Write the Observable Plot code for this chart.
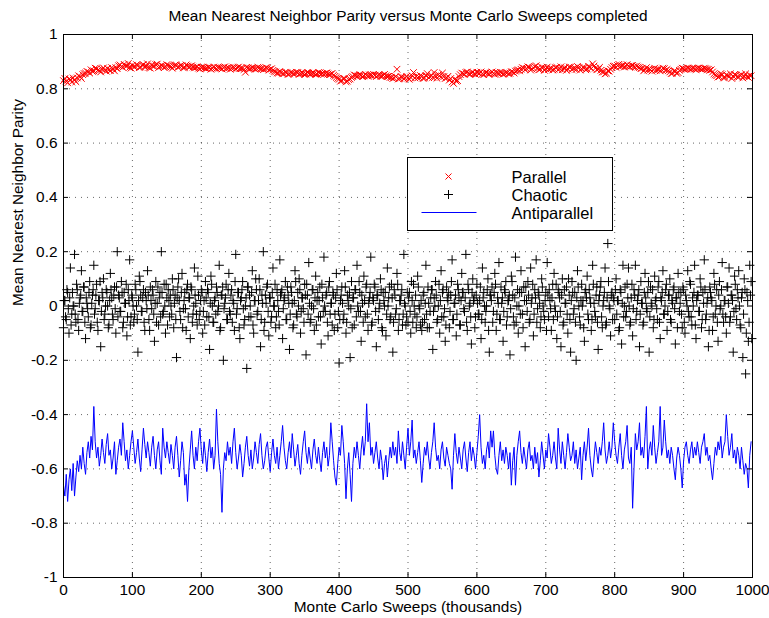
<!DOCTYPE html>
<html><head><meta charset="utf-8">
<script src="https://cdn.jsdelivr.net/npm/d3@7"></script>
<script src="https://cdn.jsdelivr.net/npm/@observablehq/plot@0.6"></script>
<style>
body{margin:0;background:#fff;}
#wrap{position:relative;width:769px;height:618px;font-family:"Liberation Sans",Arial,Helvetica,sans-serif;}
#legend{position:absolute;left:407px;top:157px;width:204px;height:72px;border:1.5px solid #000;background:#fff;}
#legend svg{display:block;}
</style></head><body><div id="wrap"></div>
<script>
const titleText = "Mean Nearest Neighbor Parity versus Monte Carlo Sweeps completed";
const xLabel = "Monte Carlo Sweeps (thousands)";
const yLabel = "Mean Nearest Neighbor Parity";
const seriesNames = ["Parallel", "Chaotic", "Antiparallel"];
const xTicks = [0, 100, 200, 300, 400, 500, 600, 700, 800, 900, 1000];
const yTicks = [-1, -0.8, -0.6, -0.4, -0.2, 0, 0.2, 0.4, 0.6, 0.8, 1];
const yTickLabels = ["-1", "-0.8", "-0.6", "-0.4", "-0.2", "0", "0.2", "0.4", "0.6", "0.8", "1"];

// Parallel: two interleaved samplings (x = 4i and x = 4i + 2)
const parallelA = [
0.83,0.828,0.836,0.825,0.832,
0.84,0.845,0.852,0.858,0.862,
0.87,0.866,0.874,0.868,0.872,0.87,0.875,0.867,0.873,
0.878,0.885,0.882,0.89,0.884,0.879,0.887,0.882,0.886,0.88,0.889,0.883,0.878,0.887,0.884,0.891,0.882,
0.884,0.881,0.886,0.88,0.883,0.887,0.882,0.885,0.879,0.884,0.882,0.88,
0.878,0.876,0.879,0.877,0.875,0.878,0.876,0.877,0.879,0.876,0.878,0.875,0.877,0.876,0.878,0.877,0.874,0.876,0.861,0.877,0.875,0.876,0.874,0.877,0.875,0.873,0.876,0.872,0.868,
0.862,0.858,0.86,0.856,0.859,0.855,0.858,0.857,0.86,0.856,
0.857,0.855,0.858,0.856,0.857,0.854,0.858,0.856,0.857,0.855,0.853,0.85,0.842,
0.835,0.83,0.838,0.828,0.836,
0.845,0.849,0.848,0.85,0.847,0.849,0.851,0.848,0.85,0.849,0.847,0.85,0.848,0.846,
0.842,0.84,0.872,0.838,0.843,0.84,0.839,0.842,0.86,
0.845,0.843,0.846,0.84,0.856,0.844,0.842,0.847,0.852,0.843,0.845,0.84,
0.832,0.825,0.836,0.83,
0.852,0.856,0.86,0.855,0.858,0.856,0.861,0.857,0.855,0.859,0.856,0.858,0.857,0.86,0.856,0.858,0.855,0.859,0.857,0.862,0.865,
0.87,0.872,0.876,0.874,0.879,0.873,0.882,0.876,0.872,0.878,0.874,0.871,
0.876,0.872,0.879,0.874,0.87,0.877,0.873,0.88,0.875,0.871,0.878,0.874,0.877,0.873,0.879,0.892,0.876,0.872,0.868,0.862,0.858,0.865,
0.878,0.884,0.886,0.882,0.887,0.884,0.883,0.885,0.882,0.884,
0.878,0.876,0.872,0.869,0.871,0.87,0.868,0.872,0.87,0.874,0.871,
0.862,0.858,0.864,0.86,
0.872,0.874,0.873,0.875,0.874,0.873,0.875,0.874,0.873,0.874,0.872,0.87,
0.855,0.848,0.845,0.852,0.842,0.848,0.855,0.846,0.85,0.843,0.852,0.847,0.845,0.85
];
const parallelB = [
0.838,0.822,0.834,0.84,0.826,
0.848,0.838,0.856,0.864,0.858,
0.864,0.876,0.869,0.862,0.877,0.865,0.87,0.878,0.866,
0.874,0.888,0.879,0.884,0.893,0.876,0.881,0.889,0.878,0.886,0.881,0.892,0.876,0.883,0.889,0.878,0.886,
0.878,0.889,0.883,0.876,0.888,0.879,0.886,0.877,0.888,0.881,0.885,0.877,
0.881,0.873,0.88,0.875,0.879,0.872,0.88,0.874,0.878,0.873,0.881,0.877,0.872,0.879,0.874,0.88,0.876,0.871,0.879,0.873,0.878,0.872,0.879,0.874,0.871,0.878,0.869,0.874,0.864,
0.858,0.864,0.855,0.861,0.853,0.86,0.855,0.861,0.853,0.859,
0.853,0.86,0.854,0.859,0.853,0.86,0.855,0.853,0.859,0.852,0.857,0.846,0.838,
0.828,0.838,0.826,0.834,0.842,
0.851,0.846,0.852,0.845,0.853,0.846,0.85,0.853,0.845,0.852,0.847,0.853,0.845,0.842,
0.838,0.845,0.836,0.844,0.837,0.846,0.835,0.848,0.84,
0.84,0.849,0.838,0.848,0.841,0.85,0.86,0.839,0.848,0.858,0.838,0.846,
0.838,0.82,0.828,0.845,
0.858,0.853,0.862,0.854,0.861,0.853,0.857,0.862,0.852,0.86,0.854,0.862,0.853,0.858,0.861,0.854,0.86,0.855,0.863,0.858,0.868,
0.866,0.878,0.87,0.881,0.869,0.877,0.885,0.87,0.879,0.868,0.88,0.875,
0.869,0.878,0.87,0.881,0.876,0.868,0.88,0.871,0.877,0.882,0.869,0.879,0.87,0.883,0.875,0.884,0.87,0.879,0.862,0.855,0.866,0.872,
0.883,0.879,0.89,0.885,0.88,0.889,0.881,0.886,0.879,0.88,
0.874,0.866,0.878,0.873,0.865,0.876,0.872,0.866,0.876,0.869,0.867,
0.856,0.865,0.857,0.868,
0.876,0.871,0.877,0.872,0.876,0.871,0.877,0.872,0.876,0.871,0.868,0.862,
0.851,0.843,0.856,0.84,0.851,0.845,0.838,0.853,0.844,0.849,0.84,0.855,0.842,0.848
];

// Chaotic: even thousands (x = 2i) and odd thousands (x = 2i + 1)
const chaoticEven = [
-0.08,0.02,-0.05,0.05,-0.1,0.14,-0.03,0.0,0.19,-0.06,0.06,-0.09,0.03,0.13,-0.02,0.07,-0.12,0.01,-0.04,0.09,
-0.07,0.04,0.15,-0.01,0.08,-0.09,0.02,-0.15,0.05,0.1,-0.03,0.06,0.0,-0.07,0.12,0.03,-0.05,0.07,-0.1,0.2,
0.04,-0.02,0.09,-0.08,0.05,0.01,-0.11,0.06,0.17,-0.04,
0.03,-0.06,0.08,0.0,-0.17,0.11,0.04,-0.02,0.06,-0.09,0.02,0.13,-0.05,0.07,-0.01,0.04,-0.13,0.09,0.01,-0.07,
0.05,0.2,-0.03,0.08,-0.1,0.03,0.06,-0.04,0.0,0.1,-0.08,0.04,-0.19,0.07,0.02,-0.05,0.12,-0.01,0.05,-0.09,
0.08,0.03,-0.12,0.06,-0.03,0.14,0.01,-0.07,0.04,-0.02,
0.06,-0.1,0.02,0.09,-0.04,0.05,-0.16,0.11,0.0,-0.06,0.03,0.07,-0.02,0.15,-0.08,0.04,-0.2,0.01,0.08,-0.05,
0.12,-0.03,0.06,0.02,-0.09,0.19,-0.01,0.05,-0.12,0.03,0.09,-0.07,0.0,-0.23,0.07,0.04,-0.04,0.13,-0.1,0.02,
0.06,-0.02,0.1,-0.15,0.04,0.2,-0.06,0.01,0.08,-0.11,
0.03,-0.04,0.14,0.0,-0.08,0.06,-0.02,0.17,0.05,-0.12,0.02,0.09,-0.05,0.04,-0.16,0.07,0.01,-0.07,0.13,-0.03,
0.05,0.1,-0.1,0.03,-0.01,0.08,-0.18,0.04,0.16,-0.06,0.0,0.06,-0.09,0.11,0.02,-0.04,0.07,-0.14,0.03,0.18,
-0.02,0.05,-0.11,0.09,0.01,-0.07,0.04,-0.03,0.12,-0.08,
-0.21,0.02,0.07,-0.05,0.13,-0.1,0.04,0.0,-0.19,0.09,0.03,-0.07,0.06,0.15,-0.02,0.05,-0.13,0.01,0.11,-0.04,
0.08,-0.09,0.03,0.18,-0.06,0.02,0.07,-0.15,0.04,-0.01,0.1,-0.08,0.05,0.0,-0.11,0.14,0.03,-0.05,0.08,-0.17,
0.06,-0.03,0.12,-0.09,0.02,0.04,-0.07,0.19,0.0,-0.04,
-0.06,0.05,-0.1,0.02,0.08,-0.03,-0.08,0.11,0.0,-0.07,-0.09,0.04,-0.05,0.15,-0.08,0.01,-0.02,0.06,-0.16,0.03,
0.09,-0.06,0.0,-0.1,0.13,0.05,-0.04,-0.13,0.07,0.02,-0.08,0.04,0.17,-0.05,0.01,-0.11,0.08,0.03,-0.07,0.12,
0.05,-0.02,0.19,-0.09,0.06,0.01,-0.14,0.1,0.03,-0.04,
0.08,-0.03,0.02,-0.12,0.14,0.05,-0.06,0.0,0.1,-0.17,0.04,0.07,-0.02,0.12,-0.09,0.03,0.16,-0.05,0.01,-0.13,
0.06,0.09,-0.04,0.02,-0.18,0.11,0.04,-0.07,0.18,0.0,-0.1,0.05,0.13,-0.03,0.07,-0.15,0.02,0.09,-0.06,0.14,
0.03,-0.11,0.06,0.17,-0.01,0.04,-0.08,0.1,0.0,-0.05,
0.05,0.16,-0.04,0.02,-0.09,0.08,0.12,-0.02,-0.12,0.06,0.03,-0.15,0.1,-0.06,0.01,0.07,-0.1,0.04,-0.17,0.09,
-0.03,0.05,-0.2,0.13,0.0,-0.07,0.08,0.02,-0.13,0.06,0.11,-0.05,0.03,-0.09,0.15,0.01,-0.04,0.07,-0.16,0.04,
0.09,-0.08,0.02,0.14,-0.06,0.23,0.0,-0.11,0.05,0.03,
-0.05,0.1,0.02,-0.09,0.06,-0.14,0.15,0.0,-0.04,0.08,0.14,-0.07,0.03,-0.11,0.06,0.15,-0.02,0.04,-0.15,0.09,
0.01,-0.06,0.12,-0.01,0.05,-0.17,0.07,0.0,-0.08,0.11,0.03,-0.05,0.09,-0.12,0.02,0.13,-0.03,0.06,-0.09,0.04,
0.1,-0.06,0.01,0.07,-0.14,0.03,0.12,-0.02,0.05,-0.08,
0.06,-0.1,0.02,0.13,-0.04,0.08,-0.07,0.0,0.15,-0.12,0.04,-0.02,0.1,-0.08,0.05,0.17,-0.05,0.01,-0.15,0.07,
0.03,-0.09,0.12,-0.03,0.06,-0.13,0.09,0.0,0.16,-0.06,0.02,-0.1,0.07,0.14,-0.04,0.04,-0.17,0.11,-0.01,0.06,
0.13,-0.07,0.03,-0.19,0.1,-0.25,0.05,-0.13,0.15,0.09
];
const chaoticOdd = [
0.02,-0.04,0.06,-0.01,0.03,-0.07,0.05,0.0,-0.03,0.08,-0.05,0.01,0.04,-0.02,0.07,-0.06,0.03,-0.01,0.05,-0.08,
0.01,0.06,-0.03,0.04,-0.06,0.02,0.09,-0.02,0.03,-0.05,0.0,0.05,-0.08,0.02,0.06,-0.03,0.04,-0.01,0.07,-0.04,
0.03,-0.02,0.05,-0.06,0.01,0.08,-0.04,0.02,-0.07,0.04,0.0,-0.03,0.06,-0.05,0.02,0.09,-0.02,0.03,-0.06,0.05,
-0.01,0.04,-0.09,0.02,0.06,-0.03,0.01,-0.06,0.07,0.03,-0.04,0.05,-0.02,0.0,0.08,-0.07,0.02,0.04,-0.03,0.06,
0.01,-0.05,0.03,0.1,-0.02,0.05,-0.08,0.02,-0.01,0.06,-0.04,0.03,0.07,-0.06,0.0,0.04,-0.03,0.11,-0.05,0.02,
0.05,-0.02,-0.07,0.03,0.06,-0.04,0.01,0.08,-0.06,0.02,-0.03,0.05,0.0,-0.09,0.04,0.07,-0.01,0.03,-0.05,0.06,
-0.02,0.04,-0.06,0.01,0.09,-0.03,0.05,-0.08,0.02,0.06,-0.01,-0.05,0.03,0.07,-0.04,0.0,0.05,-0.07,0.02,0.1,
-0.03,0.02,0.06,-0.05,0.01,-0.09,0.04,0.07,-0.02,0.03,-0.06,0.05,0.0,0.08,-0.04,0.02,-0.07,0.04,0.06,-0.01,
0.03,-0.05,0.07,0.01,-0.03,0.05,-0.08,0.02,0.09,-0.04,0.0,0.06,-0.02,0.03,-0.06,0.04,0.08,-0.03,0.01,-0.05,
0.06,-0.01,0.03,-0.07,0.05,0.02,-0.04,0.08,-0.02,0.0,0.04,-0.06,0.07,-0.03,0.01,0.05,-0.09,0.03,0.06,-0.02,
-0.05,0.04,0.01,-0.03,0.07,-0.06,0.02,0.05,-0.01,-0.08,0.03,0.06,-0.04,0.0,0.09,-0.02,0.04,-0.06,0.02,0.07,
-0.03,0.01,0.05,-0.07,0.03,0.08,-0.02,0.04,-0.05,0.01,0.06,-0.09,0.02,0.05,-0.03,0.0,0.07,-0.04,0.03,-0.06,
0.04,-0.01,0.08,-0.05,0.02,0.06,-0.03,0.01,-0.07,0.05,0.03,-0.02,0.09,-0.06,0.0,0.04,-0.04,0.07,-0.01,0.02,
-0.06,0.05,0.01,-0.03,0.07,-0.08,0.03,0.06,-0.02,0.0,0.04,-0.05,0.08,0.02,-0.04,0.06,-0.01,-0.07,0.03,0.05,
-0.02,0.09,-0.05,0.01,0.04,-0.03,0.06,-0.07,0.02,0.05,-0.01,0.03,-0.06,0.08,0.0,-0.04,0.05,0.02,-0.08,0.04,
0.01,-0.03,0.07,-0.05,0.03,0.0,-0.02,0.06,-0.09,0.04,0.02,-0.06,0.05,0.08,-0.03,0.01,-0.05,0.07,0.03,-0.02,
0.05,-0.07,0.02,0.04,-0.01,0.09,-0.04,0.03,-0.06,0.06,0.0,-0.03,0.05,-0.08,0.02,0.07,-0.02,0.04,-0.05,0.01,
0.08,-0.03,0.03,-0.06,0.05,0.01,-0.04,0.07,-0.02,0.02,-0.09,0.04,0.06,-0.01,0.03,-0.05,0.0,0.08,-0.04,0.05,
-0.02,0.04,-0.07,0.06,0.01,-0.03,0.1,-0.05,0.02,0.05,-0.01,-0.06,0.03,0.07,-0.04,0.02,0.0,-0.08,0.05,0.03,
-0.03,0.06,0.01,-0.05,0.08,-0.02,0.04,-0.06,0.02,0.07,-0.04,0.0,0.05,-0.07,0.03,0.09,-0.01,0.04,-0.05,0.02,
0.06,-0.03,0.02,-0.08,0.05,0.01,-0.04,0.07,-0.02,0.03,0.0,-0.06,0.08,-0.01,0.04,-0.05,0.02,0.06,-0.03,0.01,
-0.07,0.05,0.03,-0.02,0.09,-0.04,0.01,0.06,-0.05,0.02,-0.01,0.07,-0.06,0.03,0.05,-0.03,0.0,0.08,-0.02,0.04,
-0.05,0.02,0.06,-0.01,0.03,-0.08,0.05,0.01,-0.03,0.07,-0.06,0.04,0.0,-0.02,0.09,-0.04,0.03,0.05,-0.07,0.02,
0.04,-0.02,0.07,-0.05,0.01,0.06,-0.03,0.03,-0.09,0.05,0.02,-0.04,0.08,0.0,-0.06,0.04,-0.01,0.06,-0.03,0.02,
-0.04,0.07,0.01,-0.06,0.04,0.02,-0.02,0.08,-0.05,0.03,0.0,-0.08,0.05,-0.03,0.06,-0.1,0.02,-0.06,0.04,-0.12
];

// Antiparallel: sampled every 2 thousand sweeps
const antiStep = 2;
const antiparallel = [
-0.66,-0.7,-0.62,-0.72,-0.64,-0.6,-0.68,-0.58,-0.7,-0.63,-0.57,-0.61,-0.55,-0.6,-0.52,-0.58,-0.62,-0.54,-0.5,-0.56,
-0.48,-0.53,-0.37,-0.5,-0.56,-0.52,-0.59,-0.55,-0.49,-0.54,-0.58,-0.51,-0.47,-0.55,-0.53,-0.6,-0.56,-0.5,-0.62,-0.57,
-0.52,-0.49,-0.55,-0.43,-0.5,-0.57,-0.53,-0.6,-0.55,-0.5,-0.46,-0.52,-0.58,-0.54,-0.49,-0.56,-0.61,-0.53,-0.45,-0.51,
-0.56,-0.5,-0.54,-0.59,-0.52,-0.48,-0.55,-0.6,-0.53,-0.5,-0.57,-0.62,-0.45,-0.52,-0.56,-0.5,-0.54,-0.58,-0.51,-0.55,
-0.6,-0.52,-0.48,-0.55,-0.63,-0.57,-0.5,-0.54,-0.66,-0.62,-0.72,-0.6,-0.53,-0.46,-0.55,-0.6,-0.52,-0.57,-0.5,-0.45,
-0.53,-0.58,-0.5,-0.55,-0.61,-0.54,-0.49,-0.56,-0.52,-0.6,-0.55,-0.38,-0.5,-0.58,-0.62,-0.76,-0.6,-0.54,-0.57,-0.5,
-0.55,-0.52,-0.58,-0.5,-0.45,-0.54,-0.6,-0.56,-0.51,-0.55,-0.63,-0.58,-0.52,-0.48,-0.55,-0.59,-0.53,-0.6,-0.56,-0.5,
-0.54,-0.58,-0.51,-0.47,-0.55,-0.6,-0.57,-0.52,-0.5,-0.56,-0.61,-0.54,-0.49,-0.55,-0.58,-0.52,-0.6,-0.55,-0.5,-0.44,
-0.52,-0.57,-0.6,-0.54,-0.5,-0.56,-0.47,-0.53,-0.59,-0.55,-0.51,-0.58,-0.62,-0.55,-0.5,-0.46,-0.54,-0.58,-0.52,-0.56,
-0.6,-0.53,-0.49,-0.55,-0.58,-0.52,-0.57,-0.61,-0.54,-0.5,-0.56,-0.52,-0.59,-0.55,-0.43,-0.5,-0.57,-0.63,-0.66,-0.58,
-0.52,-0.55,-0.44,-0.5,-0.58,-0.71,-0.6,-0.54,-0.62,-0.72,-0.58,-0.52,-0.56,-0.5,-0.55,-0.6,-0.53,-0.48,-0.55,-0.5,
-0.36,-0.5,-0.43,-0.55,-0.52,-0.58,-0.54,-0.5,-0.56,-0.6,-0.53,-0.57,-0.64,-0.58,-0.55,-0.63,-0.57,-0.52,-0.56,-0.5,
-0.55,-0.52,-0.58,-0.46,-0.54,-0.57,-0.5,-0.55,-0.6,-0.52,-0.45,-0.55,-0.5,-0.42,-0.56,-0.53,-0.58,-0.54,-0.5,-0.57,
-0.65,-0.58,-0.52,-0.55,-0.5,-0.56,-0.6,-0.54,-0.5,-0.43,-0.52,-0.57,-0.55,-0.6,-0.53,-0.5,-0.56,-0.59,-0.52,-0.55,
-0.58,-0.6,-0.675,-0.55,-0.47,-0.54,-0.58,-0.52,-0.56,-0.6,-0.53,-0.5,-0.56,-0.61,-0.54,-0.5,-0.57,-0.52,-0.55,-0.6,
-0.54,-0.48,-0.4,-0.52,-0.58,-0.55,-0.6,-0.53,-0.5,-0.56,-0.46,-0.52,-0.46,-0.55,-0.6,-0.62,-0.55,-0.5,-0.57,-0.53,
-0.58,-0.52,-0.55,-0.6,-0.54,-0.66,-0.57,-0.52,-0.66,-0.55,-0.5,-0.46,-0.54,-0.58,-0.52,-0.56,-0.6,-0.53,-0.5,-0.57,
-0.55,-0.6,-0.52,-0.58,-0.54,-0.63,-0.57,-0.5,-0.55,-0.6,-0.53,-0.56,-0.47,-0.52,-0.58,-0.55,-0.5,-0.56,-0.6,-0.45,
-0.53,-0.58,-0.5,-0.55,-0.6,-0.54,-0.47,-0.52,-0.57,-0.55,-0.5,-0.58,-0.53,-0.6,-0.56,-0.52,-0.64,-0.55,-0.5,-0.57,
-0.52,-0.45,-0.55,-0.6,-0.63,-0.56,-0.5,-0.54,-0.58,-0.52,-0.55,-0.5,-0.43,-0.53,-0.58,-0.55,-0.5,-0.56,-0.52,-0.43,
-0.5,-0.55,-0.58,-0.52,-0.47,-0.55,-0.6,-0.53,-0.5,-0.44,-0.56,-0.58,-0.52,-0.745,-0.6,-0.47,-0.53,-0.5,-0.43,-0.55,
-0.52,-0.56,-0.48,-0.37,-0.6,-0.53,-0.5,-0.55,-0.44,-0.52,-0.58,-0.54,-0.5,-0.37,-0.55,-0.52,-0.42,-0.5,-0.56,-0.53,
-0.58,-0.52,-0.55,-0.6,-0.64,-0.56,-0.52,-0.55,-0.6,-0.67,-0.57,-0.52,-0.5,-0.55,-0.58,-0.53,-0.5,-0.56,-0.52,-0.55,
-0.5,-0.54,-0.58,-0.52,-0.5,-0.47,-0.55,-0.52,-0.57,-0.55,-0.6,-0.64,-0.58,-0.52,-0.55,-0.5,-0.53,-0.48,-0.56,-0.52,
-0.5,-0.4,-0.48,-0.55,-0.52,-0.47,-0.56,-0.53,-0.58,-0.52,-0.55,-0.6,-0.52,-0.57,-0.62,-0.58,-0.6,-0.67,-0.55,-0.5
];

const parData = [
  ...parallelA.map((v, i) => ({x: i * 4, y: v})),
  ...parallelB.map((v, i) => ({x: i * 4 + 2, y: v}))
];
const chaData = [
  ...chaoticEven.map((v, i) => ({x: i * 2, y: v})),
  ...chaoticOdd.map((v, i) => ({x: i * 2 + 1, y: v}))
];
const antiData = antiparallel.map((v, i) => ({x: i * antiStep, y: v}));

const FONT = '"Liberation Sans", Arial, Helvetica, sans-serif';
const FS = 15.4;
const W = 769, H = 618, ML = 63, MR = 17, MT = 34, MB = 41;
const FW = W - ML - MR, FH = H - MT - MB, TL = 5;

const chart = Plot.plot({
  width: W, height: H,
  marginLeft: ML, marginRight: MR, marginTop: MT, marginBottom: MB,
  x: {domain: [0, 1000]},
  y: {domain: [-1, 1]},
  style: {fontFamily: FONT, fontSize: FS + "px", color: "#000", background: "#fff"},
  marks: [
    Plot.gridX(xTicks, {stroke: "#000", strokeOpacity: 0.6, strokeDasharray: "1,5"}),
    Plot.gridY(yTicks, {stroke: "#000", strokeOpacity: 0.6, strokeDasharray: "1,5"}),
    Plot.dot(parData, {x: "x", y: "y", symbol: "times", r: 3.1, stroke: "#ff0000", strokeWidth: 1}),
    Plot.dot(chaData, {x: "x", y: "y", symbol: "plus", r: 3.1, stroke: "#000", strokeWidth: 1}),
    Plot.line(antiData, {x: "x", y: "y", stroke: "#0000ff", strokeWidth: 1}),
    Plot.frame({stroke: "#000"}),
    Plot.tickX(xTicks, {x: d => d, insetTop: FH - TL, stroke: "#000"}),
    Plot.tickX(xTicks, {x: d => d, insetBottom: FH - TL, stroke: "#000"}),
    Plot.tickY(yTicks, {y: d => d, insetRight: FW - TL, stroke: "#000"}),
    Plot.tickY(yTicks, {y: d => d, insetLeft: FW - TL, stroke: "#000"}),
    Plot.axisX(xTicks, {tickSize: 0, tickPadding: 7, label: null, fontSize: FS, tickFormat: d => String(d)}),
    Plot.axisY(yTicks, {tickSize: 0, tickPadding: 6, label: null, fontSize: FS,
      tickFormat: d => yTickLabels[yTicks.indexOf(d)]}),
    Plot.text([titleText], {text: d => d, frameAnchor: "top", lineAnchor: "middle", dy: -18.5, fontSize: FS}),
    Plot.text([xLabel], {text: d => d, frameAnchor: "bottom", lineAnchor: "middle", dy: 30, fontSize: FS}),
    Plot.text([yLabel], {text: d => d, frameAnchor: "left", lineAnchor: "middle", rotate: -90, dx: -45, fontSize: FS})
  ]
});

const wrap = document.getElementById("wrap");
wrap.appendChild(chart);

// Legend box
const lg = document.createElement("div");
lg.id = "legend";
const ns = "http://www.w3.org/2000/svg";
const svg = document.createElementNS(ns, "svg");
svg.setAttribute("width", 204); svg.setAttribute("height", 72);
const rows = [18.5, 36.5, 54.5];
function add(tag, attrs, text) {
  const el = document.createElementNS(ns, tag);
  for (const k in attrs) el.setAttribute(k, attrs[k]);
  if (text) el.textContent = text;
  svg.appendChild(el);
  return el;
}
add("path", {d: `M${40.5-3},${rows[0]-3}L${40.5+3},${rows[0]+3}M${40.5-3},${rows[0]+3}L${40.5+3},${rows[0]-3}`, stroke: "#ff0000", "stroke-width": 1, fill: "none"});
add("path", {d: `M${40.5-4.5},${rows[1]}L${40.5+4.5},${rows[1]}M${40.5},${rows[1]-4.5}L${40.5},${rows[1]+4.5}`, stroke: "#000", "stroke-width": 1, fill: "none"});
add("line", {x1: 13.5, x2: 68.5, y1: rows[2], y2: rows[2], stroke: "#0000ff", "stroke-width": 1});
seriesNames.forEach((n, i) => {
  add("text", {x: 103.5, y: rows[i], "dominant-baseline": "central", "font-family": FONT, "font-size": 16.5, fill: "#000"}, n);
});
lg.appendChild(svg);
wrap.appendChild(lg);
</script></body></html>
